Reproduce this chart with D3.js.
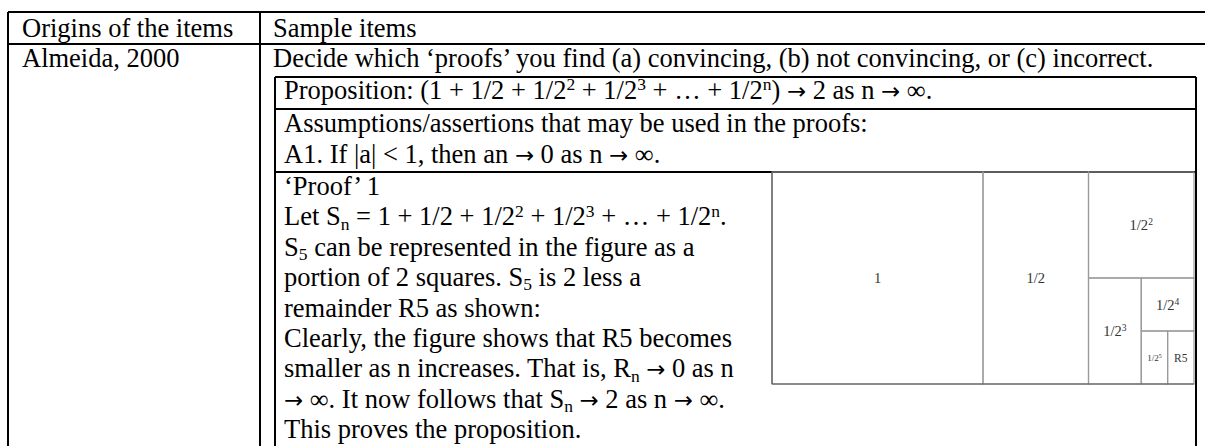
<!DOCTYPE html>
<html>
<head>
<meta charset="utf-8">
<script src="https://cdn.jsdelivr.net/npm/d3@7"></script>
<style>
  html, body { margin: 0; padding: 0; background: #fff; overflow: hidden; }
  text { font-family: "Liberation Serif", "Times New Roman", serif; fill: #000; white-space: pre; }
</style>
</head>
<body>
<svg id="chart" width="1205" height="446"></svg>
<script>
(function () {
  // Table text. ^{..} is a superscript, _{..} a subscript.
  let headers = ["Origins of the items", "Sample items"];
  let origins = ["Almeida, 2000"];
  let instruction = ["Decide which \u2018proofs\u2019 you find (a) convincing, (b) not convincing, or (c) incorrect."];
  let proposition = ["Proposition: (1 + 1/2 + 1/2^{2} + 1/2^{3} + \u2026 + 1/2^{n}) \u2192 2 as n \u2192 \u221e."];
  let assumptions = [
    "Assumptions/assertions that may be used in the proofs:",
    "A1. If |a| < 1, then an \u2192 0 as n \u2192 \u221e.",
  ];
  let proofLines = [
    "\u2018Proof\u2019 1",
    "Let S_{n} = 1 + 1/2 + 1/2^{2} + 1/2^{3} + \u2026 + 1/2^{n}.",
    "S_{5} can be represented in the figure as a",
    "portion of 2 squares. S_{5} is 2 less a",
    "remainder R5 as shown:",
    "Clearly, the figure shows that R5 becomes",
    "smaller as n increases. That is, R_{n} \u2192 0 as n",
    "\u2192 \u221e. It now follows that S_{n} \u2192 2 as n \u2192 \u221e.",
    "This proves the proposition.",
  ];

  // Figure: the terms of the series and the remainder.
  let termValues = [1, 0.5, 0.25, 0.125, 0.0625, 0.03125, 0.03125];
  let termLabels = ["1", "1/2", "1/2", "1/2", "1/2", "1/2", "R5"];
  let termPowers = ["", "", "2", "3", "4", "5", ""];

  let svg = d3.select("#chart");
  let fs = 26.5;

  // Write a line with sub/superscripts as tspans; arrows get a wider glyph.
  function richText(g, str, x, y, size, color) {
    let t = g.append("text").attr("x", x).attr("y", y)
      .attr("font-size", size).style("fill", color || "#000");
    let parts = [];
    let re = /([\^_])\{([^}]*)\}/g, last = 0, m;
    function plain(s) {
      s.split(/(\u2192)/).forEach((p) => {
        if (p) parts.push({ s: p, k: p === "\u2192" ? "a" : "" });
      });
    }
    while ((m = re.exec(str))) {
      if (m.index > last) plain(str.slice(last, m.index));
      parts.push({ s: m[2], k: m[1] });
      last = re.lastIndex;
    }
    if (last < str.length) plain(str.slice(last));
    let cur = 0;
    parts.forEach((p) => {
      let off = p.k === "^" ? -0.33 * size : p.k === "_" ? 0.16 * size : 0;
      let ts = t.append("tspan")
        .attr("dy", off - cur)
        .attr("font-size", p.k === "^" || p.k === "_" ? size * 0.66 : size)
        .text(p.s);
      if (p.k === "a") {
        ts.attr("font-size", size * 0.86).style("font-family", "'DejaVu Sans'");
      }
      cur = off;
    });
    return t;
  }

  // Table borders.
  let lines = svg.append("g").attr("stroke", "#000").attr("shape-rendering", "crispEdges");
  function hline(x1, x2, y, w) {
    lines.append("line").attr("x1", x1).attr("x2", x2).attr("y1", y).attr("y2", y).attr("stroke-width", w);
  }
  function vline(x, y1, y2, w) {
    lines.append("line").attr("x1", x).attr("x2", x).attr("y1", y1).attr("y2", y2).attr("stroke-width", w);
  }
  hline(8, 1205, 12, 1.5);
  hline(8, 1205, 44, 1.5);
  vline(8, 12, 446, 1.5);
  vline(260, 12, 446, 1.5);
  hline(275, 1196, 77, 1.2);
  hline(275, 1196, 109, 1.2);
  vline(275, 77, 446, 1.2);
  vline(1196, 77, 446, 1.2);

  // Table text.
  let txt = svg.append("g");
  richText(txt, headers[0], 22, 37, fs);
  richText(txt, headers[1], 273, 37, fs);
  richText(txt, origins[0], 22, 67, fs);
  richText(txt, instruction[0], 273, 67, fs);
  richText(txt, proposition[0], 284, 99, fs);
  assumptions.forEach((s, i) => richText(txt, s, 284, 132 + i * 30.5, fs));
  proofLines.forEach((s, i) => richText(txt, s, 284, 195 + i * 30.4, fs));

  // Figure: two unit squares filled by the terms, cut along the longer side.
  let x = d3.scaleLinear().domain([0, 2]).range([772, 1194]);
  let y = d3.scaleLinear().domain([0, 1]).range([172, 384]);
  let rest = { x0: 0, y0: 0, x1: 2, y1: 1 };
  let cells = termValues.map((v, i) => {
    let w = rest.x1 - rest.x0, h = rest.y1 - rest.y0, c;
    if (i === termValues.length - 1) {
      c = Object.assign({}, rest);
    } else if (w >= h) {
      c = { x0: rest.x0, y0: rest.y0, x1: rest.x0 + v / h, y1: rest.y1 };
      rest = { x0: c.x1, y0: rest.y0, x1: rest.x1, y1: rest.y1 };
    } else {
      c = { x0: rest.x0, y0: rest.y0, x1: rest.x1, y1: rest.y0 + v / w };
      rest = { x0: rest.x0, y0: c.y1, x1: rest.x1, y1: rest.y1 };
    }
    c.label = termLabels[i];
    c.power = termPowers[i];
    c.value = v;
    return c;
  });

  let fig = svg.append("g");
  fig.selectAll("rect")
    .data(cells)
    .enter()
    .append("rect")
    .attr("x", (d) => x(d.x0))
    .attr("y", (d) => y(d.y0))
    .attr("width", (d) => x(d.x1) - x(d.x0))
    .attr("height", (d) => y(d.y1) - y(d.y0))
    .attr("fill", "none")
    .attr("stroke", "#9a9a9a")
    .attr("stroke-width", 1.2);
  fig.append("line").attr("x1", x(0)).attr("x2", x(0)).attr("y1", y(0)).attr("y2", y(1))
    .attr("stroke", "#555").attr("stroke-width", 1.2);
  fig.append("line").attr("x1", x(0)).attr("x2", x(2)).attr("y1", y(1)).attr("y2", y(1))
    .attr("stroke", "#555").attr("stroke-width", 1.2);

  cells.forEach((d) => {
    let size = d.value >= 0.0625 ? 14.5 : d.label === "R5" ? 11.5 : 9;
    let t = richText(fig, d.label + (d.power ? "^{" + d.power + "}" : ""),
      (x(d.x0) + x(d.x1)) / 2, (y(d.y0) + y(d.y1)) / 2 + size * 0.35, size, "#333");
    t.attr("text-anchor", "middle");
  });
  hline(275, 1196, 172, 1.2);
})();
</script>
</body>
</html>
